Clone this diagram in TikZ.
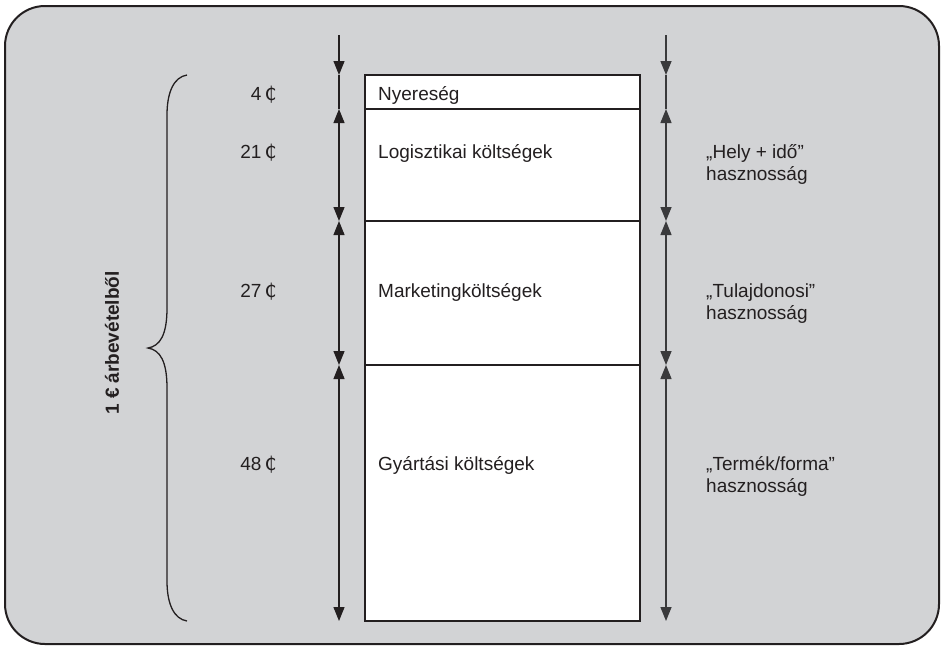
\documentclass[tikz,border=0pt]{standalone}
\usepackage{fontspec}
\setmainfont{Liberation Sans}
\newfontfamily\dvfont{DejaVu Sans}
\usetikzlibrary{arrows.meta}
\definecolor{panel}{HTML}{D2D3D5}
\definecolor{ink}{HTML}{231F20}
\definecolor{inkr}{HTML}{3A3A3C}
\newcommand{\cedi}{\,{\dvfont ₵}}
\tikzset{
  frame/.style={draw=ink, line width=2pt, fill=panel, rounded corners=40pt},
  rowbox/.style={draw=ink, line width=1.6pt, fill=white},
  tri/.tip={Triangle[length=14pt,width=11pt]},
  dimline/.style={draw=ink, line width=1.2pt},
  dimliner/.style={draw=inkr, line width=1.4pt},
  amount/.style={anchor=east, font=\fontsize{19}{22}\selectfont, text=ink, inner sep=0pt},
  rowtext/.style={anchor=west, font=\fontsize{19}{22}\selectfont, text=ink, inner sep=0pt},
  utiltext/.style={anchor=west, font=\fontsize{19}{22}\selectfont, text=ink, inner sep=0pt, align=left},
  bracelbl/.style={font=\fontsize{19}{22}\selectfont\bfseries, text=ink, rotate=90, inner sep=0pt},
}
\begin{document}
\begin{tikzpicture}[x=1pt,y=-1pt]
\useasboundingbox (0,0) rectangle (944,649);
\path[frame] (5,6) rectangle (939,644);
% box rows
\path[rowbox] (365,75) rectangle (640,621);
\draw[ink, line width=1.6pt] (365,109) -- (640,109);
\draw[ink, line width=1.6pt] (365,221) -- (640,221);
\draw[ink, line width=1.6pt] (365,365) -- (640,365);
% row texts
\node[rowtext] (t1) at (378,95) {Nyereség};
\node[rowtext] (t2) at (378,153) {Logisztikai költségek};
\node[rowtext] (t3) at (378,292) {Marketingköltségek};
\node[rowtext] (t4) at (378,465) {Gyártási költségek};
% amounts
\node[amount] (a1) at (277,95) {4\cedi};
\node[amount] (a2) at (277,153) {21\cedi};
\node[amount] (a3) at (277,292) {27\cedi};
\node[amount] (a4) at (277,465) {48\cedi};
% utilities
\node[utiltext] (u1) at (706,164) {„Hely + idő”\\hasznosság};
\node[utiltext] (u2) at (706,304) {„Tulajdonosi”\\hasznosság};
\node[utiltext] (u3) at (706,476) {„Termék/forma”\\hasznosság};
% left dimension line
\foreach \n/\y in {0/35,1/75,2/109,3/221,4/365,5/621}{
  \coordinate (L\n) at (339,\y);
  \coordinate (R\n) at (666,\y);
}
\draw[dimline, -{tri}] (L0) -- (L1);
\draw[dimline] (L1) -- (L2);
\draw[dimline, {tri}-{tri}] (L2) -- (L3);
\draw[dimline, {tri}-{tri}] (L3) -- (L4);
\draw[dimline, {tri}-{tri}] (L4) -- (L5);
\draw[dimliner, -{tri}] (R0) -- (R1);
\draw[dimliner] (R1) -- (R2);
\draw[dimliner, {tri}-{tri}] (R2) -- (R3);
\draw[dimliner, {tri}-{tri}] (R3) -- (R4);
\draw[dimliner, {tri}-{tri}] (R4) -- (R5);
% brace
\coordinate (bt) at (187,75);
\coordinate (bm) at (148,348);
\coordinate (bb) at (187,621);
\draw[ink, line width=1.3pt] (bt) .. controls (174,77) and (167,92) .. (167,115)
  -- (167,308) .. controls (167,335) and (160,346) .. (bm)
  .. controls (160,350) and (167,361) .. (167,388)
  -- (167,581) .. controls (167,604) and (174,619) .. (bb);
\node[bracelbl] (lbl) at (112,343) {1 € árbevételből};
\end{tikzpicture}
\end{document}
